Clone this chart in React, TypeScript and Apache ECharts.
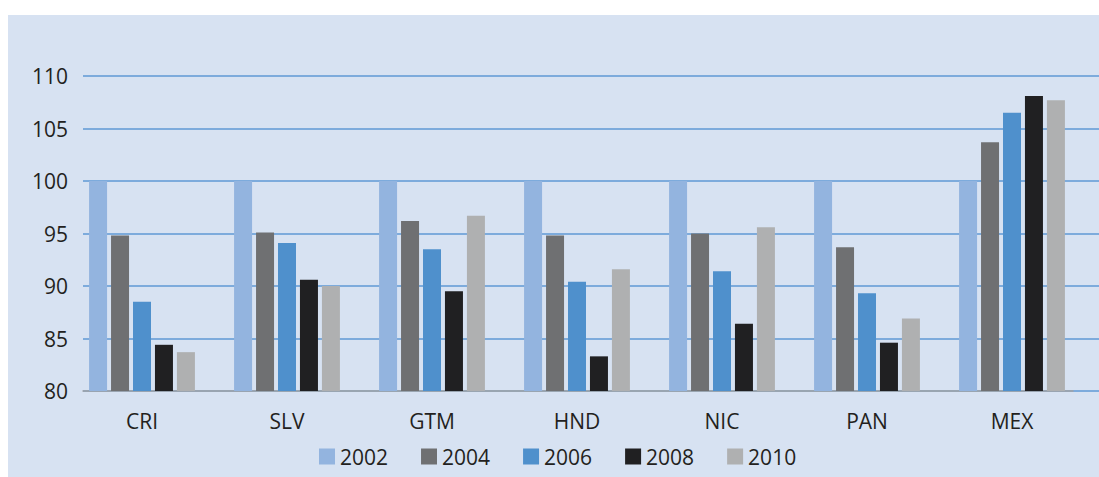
import React, { useEffect, useRef } from "react";
import * as echarts from "echarts";

const categories = ["CRI", "SLV", "GTM", "HND", "NIC", "PAN", "MEX"];
const years = ["2002", "2004", "2006", "2008", "2010"];
const v2002 = [100, 100, 100, 100, 100, 100, 100];
const v2004 = [94.8, 95.1, 96.2, 94.8, 95.0, 93.7, 103.7];
const v2006 = [88.5, 94.1, 93.5, 90.4, 91.4, 89.3, 106.5];
const v2008 = [84.4, 90.6, 89.5, 83.3, 86.4, 84.6, 108.1];
const v2010 = [83.7, 90.0, 96.7, 91.6, 95.6, 86.9, 107.7];
const seriesValues = [v2002, v2004, v2006, v2008, v2010];
const colors = ["#93b4df", "#6f7072", "#4f90cc", "#202022", "#afb0b1"];
const yMin = 80;
const yMax = 110;
const yStep = 5;

const FONT = "'Open Sans', 'Noto Sans', sans-serif";
const TXT = "#231f20";

export default function App() {
  const ref = useRef<HTMLDivElement>(null);
  useEffect(() => {
    if (!ref.current) return;
    const chart = echarts.init(ref.current, undefined, { renderer: "svg" });
    const top = 61;
    const bottom = 86;
    chart.setOption({
      animation: false,
      backgroundColor: "#d7e2f2",
      textStyle: { fontFamily: FONT },
      grid: [
        { left: 61.5, right: 14.5, top, bottom },
        { left: 75, right: 0, top, bottom },
        { left: 75, right: 26, top, bottom },
      ],
      xAxis: [
        {
          type: "category",
          gridIndex: 0,
          data: categories,
          axisLine: { show: false },
          axisTick: { show: false },
          axisLabel: { color: TXT, fontSize: 21, margin: 19, fontFamily: FONT },
        },
        { type: "value", gridIndex: 1, show: false, min: 0, max: 1 },
        {
          type: "category",
          gridIndex: 2,
          data: categories,
          axisLine: { show: true, lineStyle: { color: "#a3a3a3", width: 1.5 } },
          axisTick: { show: false },
          axisLabel: { show: false },
        },
      ],
      yAxis: [
        { type: "value", gridIndex: 0, min: yMin, max: yMax, interval: yStep, show: false },
        {
          type: "value",
          gridIndex: 1,
          min: yMin,
          max: yMax,
          interval: yStep,
          axisLine: { show: false },
          axisTick: { show: false },
          axisLabel: { color: TXT, fontSize: 21, margin: 15, fontFamily: FONT },
          splitLine: { lineStyle: { color: "#5f98d4", width: 1.5 } },
        },
        { type: "value", gridIndex: 2, min: yMin, max: yMax, interval: yStep, show: false },
      ],
      legend: {
        left: 306,
        top: 426,
        itemWidth: 16,
        itemHeight: 16,
        itemGap: 33,
        itemStyle: { borderWidth: 0 },
        icon: "rect",
        textStyle: { color: TXT, fontSize: 21, fontFamily: FONT, padding: [0, 0, 0, 0] },
        data: years,
      },
      series: years.map((y, i) => ({
        name: y,
        type: "bar",
        xAxisIndex: 0,
        yAxisIndex: 0,
        data: seriesValues[i],
        barWidth: 18,
        barGap: "22%",
        itemStyle: { color: colors[i] },
        z: 3,
      })),
    });
    return () => chart.dispose();
  }, []);
  return (
    <div
      ref={ref}
      style={{ position: "absolute", left: 8, top: 15, width: 1091, height: 462 }}
    />
  );
}
